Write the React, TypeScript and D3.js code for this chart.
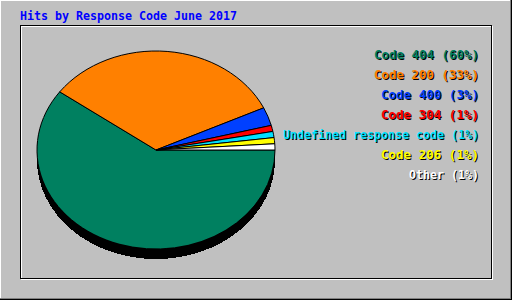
import React from "react";
import * as d3 from "d3";

const title = "Hits by Response Code June 2017";
const labels = ["Code 404", "Code 200", "Code 400", "Code 304", "Undefined response code", "Code 206", "Other"];
const percents = [60, 33, 3, 1, 1, 1, 1];
const colors = ["#008060", "#FF8000", "#0040FF", "#FF0000", "#00E0FF", "#FFFF00", "#FFFFFF"];
const separators = ["  ", "  ", "  ", "  ", " ", "  ", " "];

const W = 512;
const H = 300;
const CX = 156;
const CY = 150;
const RX = 119;
const RY = 99;
const DEPTH = 10;
const CHAR_W = 7;
const FONT = "'DejaVu Sans Mono', 'Liberation Mono', monospace";

export default function App() {
  // slices run clockwise from the 3 o'clock position
  const pie = d3
    .pie<number>()
    .sort(null)
    .startAngle(Math.PI / 2)
    .endAngle(Math.PI / 2 + 2 * Math.PI)
    .value((d) => d);
  const arcs = pie(percents);
  const arc = d3.arc<d3.PieArcDatum<number>>().innerRadius(0).outerRadius(100);

  const legend = labels.map((l, i) => `${l}${separators[i]}(${percents[i]}%)`);

  return (
    <svg
      width={W}
      height={H}
      style={{ position: "absolute", left: 0, top: 0, display: "block" }}
    >
      <rect x={0} y={0} width={W} height={H} fill="#C0C0C0" />
      {/* raised outer frame */}
      <line x1={0} y1={0.5} x2={W} y2={0.5} stroke="#FFFFFF" />
      <line x1={0.5} y1={0} x2={0.5} y2={H} stroke="#FFFFFF" />
      <line x1={0} y1={298.5} x2={W} y2={298.5} stroke="#808080" />
      <line x1={510.5} y1={0} x2={510.5} y2={H} stroke="#808080" />
      <line x1={0} y1={299.5} x2={W} y2={299.5} stroke="#000000" />
      <line x1={511.5} y1={0} x2={511.5} y2={H} stroke="#000000" />
      {/* sunken inner frame */}
      <rect x={21.5} y={26.5} width={471} height={253} fill="none" stroke="#FFFFFF" />
      <rect x={20.5} y={25.5} width={471} height={253} fill="none" stroke="#000000" />

      <text x={20} y={20} fill="#0000FF" fontFamily={FONT} fontWeight="bold" fontSize={12.3}
        textLength={title.length * CHAR_W} lengthAdjust="spacingAndGlyphs" style={{ whiteSpace: "pre" }}>
        {title}
      </text>

      {/* pie depth */}
      <ellipse cx={CX} cy={CY + DEPTH} rx={RX} ry={RY} fill="#000000" shapeRendering="crispEdges" />
      <g transform={`translate(${CX},${CY}) scale(${RX / 100},${RY / 100})`}>
        {arcs.map((a, i) => (
          <path
            key={i}
            d={arc(a) || ""}
            fill={colors[i]}
            stroke="#000000"
            strokeWidth={1}
            vectorEffect="non-scaling-stroke"
            shapeRendering="crispEdges"
          />
        ))}
      </g>

      {legend.map((t, i) => (
        <g key={i} fontFamily={FONT} fontWeight="bold" fontSize={12.3} textAnchor="end" style={{ whiteSpace: "pre" }}>
          <text x={480} y={60 + i * 20} fill="#000000" textLength={t.length * CHAR_W} lengthAdjust="spacingAndGlyphs">
            {t}
          </text>
          <text x={479} y={59 + i * 20} fill={colors[i]} textLength={t.length * CHAR_W} lengthAdjust="spacingAndGlyphs">
            {t}
          </text>
        </g>
      ))}
    </svg>
  );
}
